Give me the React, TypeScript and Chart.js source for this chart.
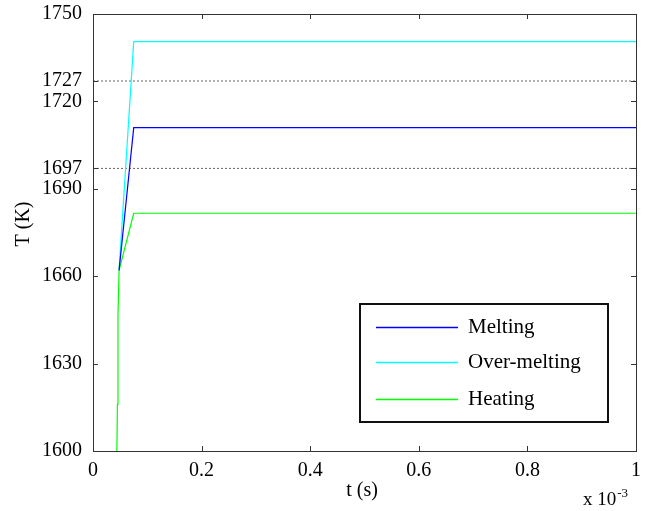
import React, { useEffect, useRef } from "react";
import { Chart, registerables } from "chart.js";

Chart.register(...registerables);

// Data
const tHeating = [0.044, 0.045, 0.046, 0.048, 0.075, 1.0];
const heating = [1600, 1616, 1646, 1662, 1681.6, 1681.6];
const tMelting = [0.048, 0.075, 1.0];
const melting = [1662, 1711, 1711];
const tOverMelting = [0.048, 0.075, 1.0];
const overMelting = [1662, 1740.5, 1740.5];
const refLevels = [1697, 1727];
const yTickValues = [1600, 1630, 1660, 1690, 1697, 1720, 1727, 1750];
const xTickValues = [0, 0.2, 0.4, 0.6, 0.8, 1];
const seriesNames = ["Melting", "Over-melting", "Heating"];
const seriesColors = ["rgb(0,0,255)", "rgb(0,255,255)", "rgb(0,255,0)"];

const FONT = "'Liberation Serif', 'Times New Roman', serif";

const decorPlugin = {
  id: "decor",
  afterDraw(chart: any) {
    const ctx = chart.ctx;
    const { left, right, top, bottom } = chart.chartArea;
    const xs = chart.scales.x;
    const ys = chart.scales.y;
    ctx.save();
    ctx.strokeStyle = "#333";
    ctx.lineWidth = 1;
    // box
    ctx.strokeRect(Math.round(left) + 0.5, Math.round(top) + 0.5, Math.round(right - left), Math.round(bottom - top));
    // inward ticks
    const tl = 5;
    ctx.beginPath();
    yTickValues.forEach((v) => {
      const y = Math.round(ys.getPixelForValue(v)) + 0.5;
      ctx.moveTo(left, y);
      ctx.lineTo(left + tl, y);
      ctx.moveTo(right, y);
      ctx.lineTo(right - tl, y);
    });
    xTickValues.forEach((v) => {
      const x = Math.round(xs.getPixelForValue(v)) + 0.5;
      ctx.moveTo(x, bottom);
      ctx.lineTo(x, bottom - tl);
      ctx.moveTo(x, top);
      ctx.lineTo(x, top + tl);
    });
    ctx.stroke();

    // axis titles
    ctx.fillStyle = "#000";
    ctx.font = `20px ${FONT}`;
    ctx.textAlign = "center";
    ctx.textBaseline = "middle";
    ctx.fillText("t (s)", 362, 491);
    ctx.save();
    ctx.translate(24, 224);
    ctx.rotate(-Math.PI / 2);
    ctx.fillText("T (K)", 0, 0);
    ctx.restore();

    // x 10^-3
    ctx.textAlign = "left";
    ctx.textBaseline = "alphabetic";
    ctx.font = `19px ${FONT}`;
    ctx.fillText("x 10", 583, 505);
    const w = ctx.measureText("x 10").width;
    ctx.font = `13px ${FONT}`;
    ctx.fillText("-3", 583 + w + 1, 497);

    // legend
    const lx = 360, ly = 304, lw = 248, lh = 118;
    ctx.fillStyle = "#fff";
    ctx.fillRect(lx, ly, lw, lh);
    ctx.strokeStyle = "#111";
    ctx.lineWidth = 2;
    ctx.strokeRect(lx, ly, lw, lh);
    const rowsY = [327, 362, 399];
    ctx.font = `21px ${FONT}`;
    ctx.textBaseline = "alphabetic";
    seriesNames.forEach((name, i) => {
      ctx.strokeStyle = seriesColors[i];
      ctx.lineWidth = 1.5;
      ctx.beginPath();
      ctx.moveTo(376, rowsY[i] + 0.5);
      ctx.lineTo(458, rowsY[i] + 0.5);
      ctx.stroke();
      ctx.fillStyle = "#000";
      ctx.fillText(name, 468, rowsY[i] + 6);
    });
    ctx.restore();
  },
};

export default function App() {
  const ref = useRef<HTMLCanvasElement>(null);
  useEffect(() => {
    if (!ref.current) return;
    const toPts = (xs: number[], ys: number[]) => xs.map((x, i) => ({ x, y: ys[i] }));
    const refSets = refLevels.map((lvl) => ({
      label: "ref" + lvl,
      data: [{ x: 0, y: lvl }, { x: 1, y: lvl }],
      borderColor: "#666",
      borderWidth: 1,
      borderDash: [2, 2],
      pointRadius: 0,
      fill: false,
    }));
    const chart = new Chart(ref.current, {
      type: "line",
      data: {
        datasets: [
          { label: seriesNames[0], data: toPts(tMelting, melting), borderColor: seriesColors[0], borderWidth: 1.2, pointRadius: 0, tension: 0 },
          { label: seriesNames[1], data: toPts(tOverMelting, overMelting), borderColor: seriesColors[1], borderWidth: 1.2, pointRadius: 0, tension: 0 },
          { label: seriesNames[2], data: toPts(tHeating, heating), borderColor: seriesColors[2], borderWidth: 1.2, pointRadius: 0, tension: 0 },
          ...refSets,
        ] as any,
      },
      options: {
        animation: false,
        responsive: false,
        layout: { padding: { top: 14, right: 16, left: 0, bottom: 0 } },
        plugins: { legend: { display: false }, tooltip: { enabled: false } },
        scales: {
          x: {
            type: "linear",
            min: 0,
            max: 1,
            grid: { display: false },
            border: { display: false },
            afterBuildTicks: (s: any) => {
              s.ticks = xTickValues.map((v) => ({ value: v }));
            },
            afterFit: (s: any) => {
              s.height = 60;
              s.paddingLeft = 0;
              s.paddingRight = 0;
            },
            ticks: {
              color: "#000",
              font: { family: FONT, size: 20 },
              padding: 0,
              maxRotation: 0,
              autoSkip: false,
              callback: (v: any) => (v === 0 ? "0" : v === 1 ? "1" : Number(v).toFixed(1)),
            },
          },
          y: {
            type: "linear",
            min: 1600,
            max: 1750,
            grid: { display: false },
            border: { display: false },
            afterBuildTicks: (s: any) => {
              s.ticks = yTickValues.map((v) => ({ value: v }));
            },
            afterFit: (s: any) => {
              s.width = 93;
              s.paddingTop = 0;
              s.paddingBottom = 0;
            },
            ticks: {
              color: "#000",
              font: { family: FONT, size: 20 },
              padding: 3,
              autoSkip: false,
              callback: (v: any) => String(v),
            },
          },
        },
      } as any,
      plugins: [decorPlugin],
    });
    return () => chart.destroy();
  }, []);
  return (
    <div style={{ position: "fixed", left: 0, top: 0, width: 652, height: 511, background: "#fff" }}>
      <canvas ref={ref} width={652} height={511} style={{ width: 652, height: 511 }} />
    </div>
  );
}
